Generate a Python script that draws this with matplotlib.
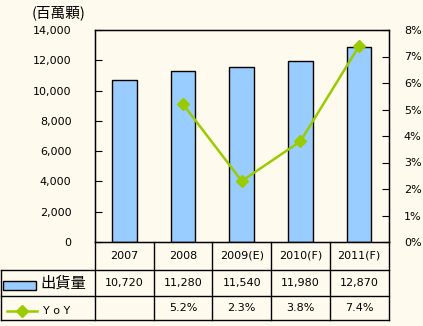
import numpy as np
import matplotlib.pyplot as plt
from matplotlib.patches import Rectangle
from matplotlib.lines import Line2D

plt.rcParams['font.family'] = ['DejaVu Sans', 'Noto Sans CJK TC']

years = ['2007', '2008', '2009(E)', '2010(F)', '2011(F)']
shipments = [10720, 11280, 11540, 11980, 12870]
yoy = [np.nan, 5.2, 2.3, 3.8, 7.4]
left_ticks = [0, 2000, 4000, 6000, 8000, 10000, 12000, 14000]
right_ticks = [0, 1, 2, 3, 4, 5, 6, 7, 8]

bg = '#FFFAEE'
bar_color = '#99CCFF'
line_color = '#99CC00'
fs = 8

W, H = 423, 326
fig = plt.figure(figsize=(W / 100, H / 100), dpi=100, facecolor=bg)
x0, x1, ytop, ybot = 95, 388.5, 30, 242
ax = fig.add_axes([x0 / W, 1 - ybot / H, (x1 - x0) / W, (ybot - ytop) / H])
ax.set_facecolor(bg)

x = np.arange(len(years))
ax.bar(x, shipments, width=0.42, color=bar_color, edgecolor='black', linewidth=1)
ax.set_xlim(-0.5, len(years) - 0.5)
ax.set_ylim(0, 14000)
ax.set_yticks(left_ticks)
ax.set_yticklabels([f'{v:,}' for v in left_ticks], fontsize=fs)
ax.tick_params(axis='y', direction='in', length=5, pad=17)
ax.set_xticks([])
for s in ax.spines.values():
    s.set_linewidth(1)

ax2 = ax.twinx()
ax2.plot(x, yoy, color=line_color, linewidth=1.8, marker='D', markersize=6,
         markerfacecolor=line_color, markeredgecolor=line_color)
ax2.set_ylim(0, 8)
ax2.set_yticks(right_ticks)
ax2.set_yticklabels([f'{v}%' for v in right_ticks], fontsize=fs)
ax2.tick_params(axis='y', direction='in', length=5, pad=11)

fig.text(32 / W, 1 - 13 / H, '(百萬顆)', fontsize=10.5, ha='left', va='center',
         family=['Noto Sans CJK TC', 'DejaVu Sans'])

# data table below the plot, drawn in pixel coordinates
def fx(px):
    return px / W

def fy(py):
    return 1 - py / H

col_edges = [x0 + (x1 - x0) * i / len(years) for i in range(len(years) + 1)]
rows = [242, 270, 296, 320]
lw = 1
for r in rows[1:]:
    fig.add_artist(Line2D([fx(1), fx(x1)], [fy(r)] * 2, color='black', lw=lw))
for ce in col_edges:
    fig.add_artist(Line2D([fx(ce)] * 2, [fy(rows[0]), fy(rows[3])], color='black', lw=lw))
fig.add_artist(Line2D([fx(1)] * 2, [fy(rows[1]), fy(rows[3])], color='black', lw=lw))

for i, yr in enumerate(years):
    cx = (col_edges[i] + col_edges[i + 1]) / 2
    fig.text(fx(cx), fy((rows[0] + rows[1]) / 2), yr, fontsize=fs, ha='center', va='center')
    fig.text(fx(cx), fy((rows[1] + rows[2]) / 2), f'{shipments[i]:,}', fontsize=fs,
             ha='center', va='center')
    if not np.isnan(yoy[i]):
        fig.text(fx(cx), fy((rows[2] + rows[3]) / 2), f'{yoy[i]:.1f}%', fontsize=fs,
                 ha='center', va='center')

# row labels with legend keys
fig.add_artist(Rectangle((fx(3), fy(290)), fx(33), 9 / H, facecolor=bar_color,
                         edgecolor='black', lw=1))
fig.text(fx(40), fy(283), '出貨量', fontsize=11, ha='left', va='center',
         family=['Noto Sans CJK TC', 'DejaVu Sans'])
fig.add_artist(Line2D([fx(7), fx(37)], [fy(311)] * 2, color=line_color, lw=1.8))
fig.add_artist(Line2D([fx(22)], [fy(311)], color=line_color, marker='D', markersize=6))
fig.text(fx(43), fy(311), 'Y o Y', fontsize=fs, ha='left', va='center')

fig.savefig('out.png', dpi=100, facecolor=bg)
